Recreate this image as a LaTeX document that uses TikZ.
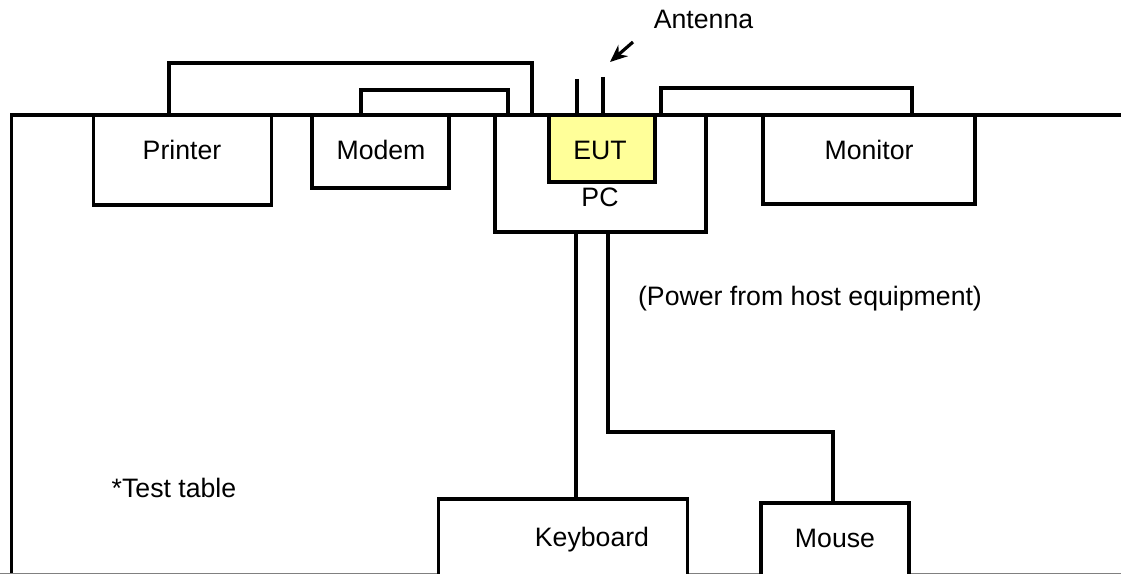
\documentclass[tikz,border=0pt]{standalone}
\usepackage{fontspec}
\setmainfont{Liberation Sans}
\usetikzlibrary{arrows.meta}
\definecolor{eutyellow}{RGB}{255,255,153}
\begin{document}
\begin{tikzpicture}[x=0.75pt,y=-0.75pt,
  line width=2.6pt, line join=miter,
  box/.style={draw=black, line width=2.6pt, fill=white, inner sep=0pt, outer sep=0pt},
  lbl/.style={font=\fontsize{20}{23}\selectfont, inner sep=0pt, anchor=base},
  cable/.style={draw=black, line width=2.6pt},
  ant/.style={draw=black, line width=2.4pt}]
\useasboundingbox (0,0) rectangle (1121,574);
\clip (0,0) rectangle (1121,574);
% table outline
\coordinate (tl) at (11.5,115);
\coordinate (tr) at (1125,115);
\coordinate (bl) at (11.5,580);
\draw[line width=2.6pt] (bl) -- (tl) -- (tr);
\draw[gray, line width=1pt] (0,573.5) -- (1121,573.5);
% boxes
\node[box, minimum width={178*0.75pt}, minimum height={90*0.75pt}] (printer) at (182.5,160) {};
\node[box, minimum width={137*0.75pt}, minimum height={73*0.75pt}] (modem) at (380.5,151.5) {};
\node[box, minimum width={211*0.75pt}, minimum height={117*0.75pt}] (pc) at (600.5,173.5) {};
\node[box, fill=eutyellow, minimum width={106*0.75pt}, minimum height={67*0.75pt}] (eut) at (602,148.5) {};
\node[box, minimum width={212*0.75pt}, minimum height={89*0.75pt}] (monitor) at (869,159.5) {};
\node[box, minimum width={249*0.75pt}, minimum height={90*0.75pt}] (keyboard) at (563,544) {};
\node[box, minimum width={148*0.75pt}, minimum height={85*0.75pt}] (mouse) at (835,545.5) {};
% redraw table top over box tops
\draw[line width=2.6pt] (tl) -- (tr);
% texts
\node[lbl] (tprinter) at (182,160) {Printer};
\node[lbl] (tmodem) at (381,160) {Modem};
\node[lbl] (teut) at (600,160) {EUT};
\node[lbl] (tpc) at (600,207) {PC};
\node[lbl] (tmonitor) at (869,160) {Monitor};
\node[lbl] (tkeyboard) at (592,546) {Keyboard};
\node[lbl] (tmouse) at (835,547) {Mouse};
\node[lbl] (tant) at (703.5,29) {Antenna};
\node[lbl] (tpower) at (810,305) {(Power from host equipment)};
\node[lbl] (ttable) at (174,497) {*Test table};
% cables
\coordinate (pc1) at (169,63);
\coordinate (pc2) at (532,63);
\draw[cable] (printer.north -| pc1) -- (pc1) -- (pc2) -- (pc2 |- pc.north);
\coordinate (mc1) at (361,90);
\coordinate (mc2) at (508,90);
\draw[cable] (modem.north -| mc1) -- (mc1) -- (mc2) -- (mc2 |- pc.north);
\coordinate (nc1) at (661,88);
\coordinate (nc2) at (912,88);
\draw[cable] (pc.north -| nc1) -- (nc1) -- (nc2) -- (nc2 |- monitor.north);
\coordinate (kc) at (576,232);
\draw[cable] (pc.south -| kc) -- (keyboard.north -| kc);
\coordinate (ms1) at (608,432);
\coordinate (ms2) at (833,432);
\draw[cable] (pc.south -| ms1) -- (ms1) -- (ms2) -- (ms2 |- mouse.north);
% antenna
\coordinate (a1) at (577,79);
\coordinate (a2) at (603,77);
\draw[ant] (a1) -- (a1 |- eut.north);
\draw[ant] (a2) -- (a2 |- eut.north);
\coordinate (arrtail) at (633,42);
\coordinate (arrhead) at (610,62);
\draw[line width=2.4pt, -{Stealth[length=13pt,width=11pt]}] (arrtail) -- (arrhead);
\end{tikzpicture}
\end{document}
